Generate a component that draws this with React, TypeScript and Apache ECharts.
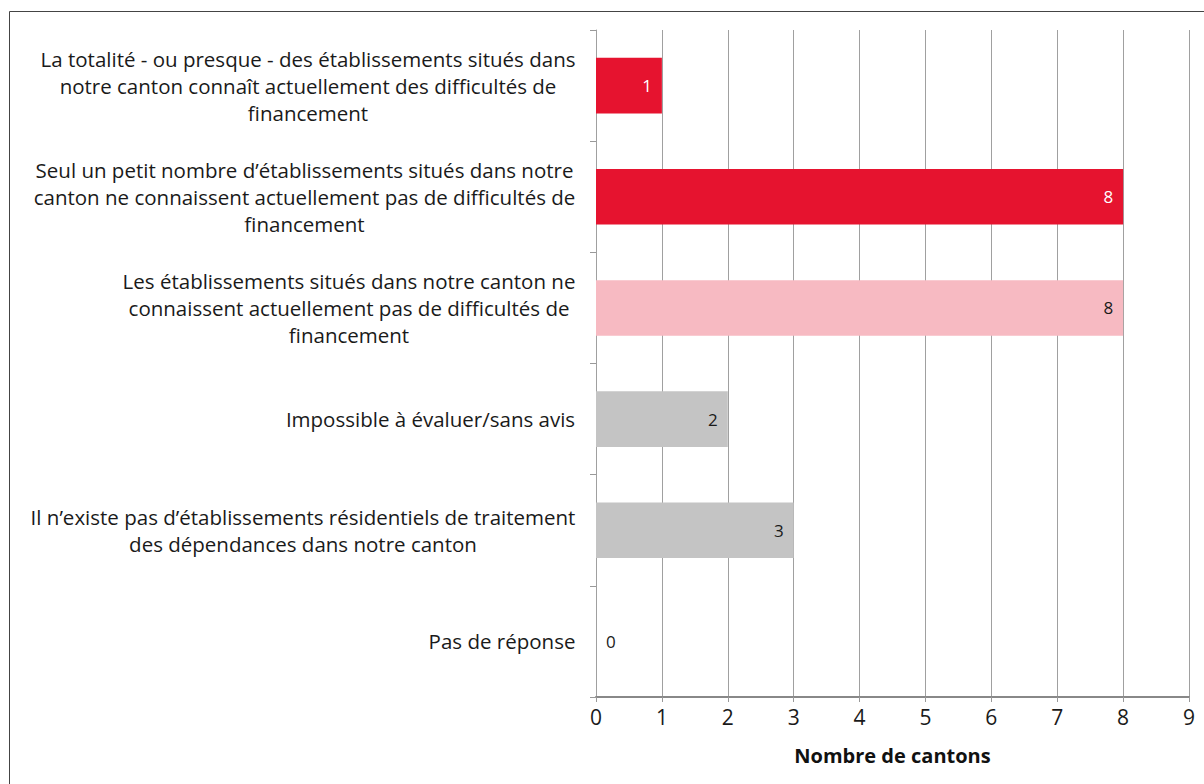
import React, { useEffect, useRef } from "react";
import * as echarts from "echarts";

const categories: string[] = [
  "La totalité - ou presque - des établissements situés dans\nnotre canton connaît actuellement des difficultés de\nfinancement",
  "Seul un petit nombre d’établissements situés dans notre\ncanton ne connaissent actuellement pas de difficultés de\nfinancement",
  "Les établissements situés dans notre canton ne\nconnaissent actuellement pas de difficultés de\nfinancement",
  "Impossible à évaluer/sans avis",
  "Il n’existe pas d’établissements résidentiels de traitement\ndes dépendances dans notre canton",
  "Pas de réponse",
];
const values: number[] = [1, 8, 8, 2, 3, 0];
const barColors: string[] = ["#E6132F", "#E6132F", "#F7BAC2", "#C4C4C4", "#C4C4C4", "#C4C4C4"];
const labelColors: string[] = ["#FFFFFF", "#FFFFFF", "#1A1A1A", "#1A1A1A", "#1A1A1A", "#1A1A1A"];
const xTicks: number[] = [0, 1, 2, 3, 4, 5, 6, 7, 8, 9];

const FONT = "'Open Sans', 'DejaVu Sans', sans-serif";
const CAT_SIZE = 20.5;

export default function App() {
  const ref = useRef<HTMLDivElement>(null);
  useEffect(() => {
    document.body.style.margin = "0";
    if (!ref.current) return;
    const chart = echarts.init(ref.current, undefined, { renderer: "svg" });

    const ctx = document.createElement("canvas").getContext("2d")!;
    ctx.font = `${CAT_SIZE}px 'Open Sans'`;
    const rich: Record<string, any> = {};
    categories.forEach((c, i) => {
      const w = Math.max(...c.split("\n").map((l) => ctx.measureText(l).width));
      rich["r" + i] = {
        width: Math.ceil(w) + 1,
        align: "center",
        fontSize: CAT_SIZE,
        lineHeight: 27,
        fontFamily: FONT,
        color: "#1A1A1A",
      };
    });

    chart.setOption({
      animation: false,
      graphic: [
        {
          type: "rect",
          shape: { x: 9.5, y: 11.5, width: 1400, height: 1000 },
          style: { fill: "none", stroke: "#444", lineWidth: 1 },
          silent: true,
        },
      ],
      grid: { left: 596, right: 15, top: 30, bottom: 87 },
      xAxis: {
        type: "value",
        min: xTicks[0],
        max: xTicks[xTicks.length - 1],
        interval: 1,
        name: "Nombre de cantons",
        nameLocation: "middle",
        nameGap: 48,
        nameTextStyle: { fontFamily: FONT, fontSize: 20, fontWeight: "bold", color: "#111" },
        axisLine: { show: true, lineStyle: { color: "#888", width: 2 } },
        axisTick: { show: true, length: 5, lineStyle: { color: "#999" } },
        axisLabel: { fontFamily: FONT, fontSize: 21, color: "#1A1A1A", margin: 9 },
        splitLine: { show: true, lineStyle: { color: "#A0A0A0", width: 1 } },
      },
      yAxis: {
        type: "category",
        inverse: true,
        data: categories,
        axisLine: { show: true, lineStyle: { color: "#A0A0A0", width: 1 } },
        axisTick: { show: true, length: 6, lineStyle: { color: "#999" } },
        axisLabel: {
          margin: 20,
          align: "right",
          formatter: (value: string, index: number) =>
            value
              .split("\n")
              .map((l) => `{r${index}|${l}}`)
              .join("\n"),
          rich,
        },
      },
      series: [
        {
          type: "bar",
          barWidth: "50%",
          data: values.map((v, i) => ({
            value: v,
            itemStyle: { color: barColors[i] },
            label: {
              show: true,
              position: v === 0 ? "right" : "insideRight",
              distance: 10,
              color: labelColors[i],
              fontFamily: FONT,
              fontSize: 17,
            },
          })),
        },
      ],
    });
    return () => chart.dispose();
  }, []);
  return <div ref={ref} style={{ width: 1204, height: 784 }} />;
}
